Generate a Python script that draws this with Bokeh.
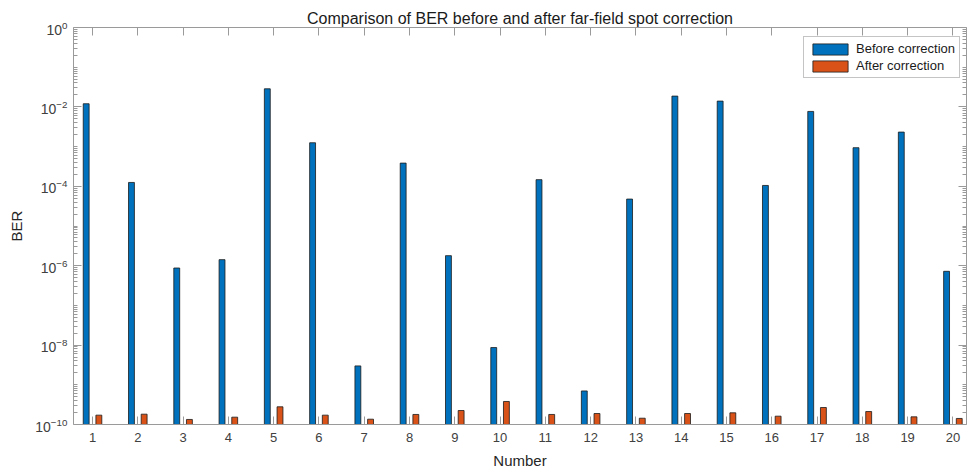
from bokeh.plotting import figure
from bokeh.models import (Range1d, LinearAxis, FixedTicker, LogTickFormatter,
                          CustomJSTickFormatter, Legend, LegendItem, ColumnDataSource)
from bokeh.embed import file_html
from bokeh.resources import INLINE

# ---- data ----
numbers = list(range(1, 21))
before_correction = [1.2e-2, 1.25e-4, 8.75e-7, 1.42e-6, 2.86e-2, 1.25e-3, 2.99e-9, 3.84e-4, 1.79e-6, 8.67e-9,
                     1.47e-4, 7.0e-10, 4.77e-5, 1.87e-2, 1.40e-2, 1.05e-4, 7.69e-3, 9.38e-4, 2.32e-3, 7.22e-7]
after_correction = [1.72e-10, 1.82e-10, 1.34e-10, 1.53e-10, 2.79e-10, 1.72e-10, 1.36e-10, 1.79e-10, 2.25e-10, 3.8e-10,
                    1.79e-10, 1.89e-10, 1.44e-10, 1.89e-10, 1.97e-10, 1.62e-10, 2.68e-10, 2.12e-10, 1.56e-10, 1.42e-10]
y_major_ticks = [1e-10, 1e-8, 1e-6, 1e-4, 1e-2, 1e0]
y_floor = 1e-10
series_names = ["Before correction", "After correction"]

minor = []
for k in range(-10, 0):
    for m in range(1, 10):
        v = float(f"{m}e{k}")
        if v not in y_major_ticks:
            minor.append(v)

offset = 0.14
bar_w = 0.13
src = ColumnDataSource(dict(
    xb=[n - offset for n in numbers],
    xa=[n + offset for n in numbers],
    before=before_correction,
    after=after_correction,
    base=[y_floor] * len(numbers),
))

FONT = "Liberation Sans"
LINE = "#9a9a9a"
TXT = "#404040"

p = figure(width=969, height=473, x_range=Range1d(0.58, 20.3), y_range=Range1d(y_floor, 1),
           y_axis_type="log", output_backend="svg", toolbar_location=None,
           min_border_left=73, min_border_right=3, min_border_top=27, min_border_bottom=49)
p.outline_line_color = None
p.grid.visible = False

p.title.text = "Comparison of BER before and after far-field spot correction"
p.title.align = "center"
p.title.text_font = FONT
p.title.text_font_size = "16px"
p.title.text_font_style = "normal"
p.title.text_color = "#1a1a1a"
p.title.standoff = 2

rb = p.vbar(x="xb", width=bar_w, top="before", bottom="base", source=src,
            fill_color="#0072BD", line_color="#1a1a1a", line_width=0.8)
ra = p.vbar(x="xa", width=bar_w, top="after", bottom="base", source=src,
            fill_color="#D95319", line_color="#1a1a1a", line_width=0.8)

xt = FixedTicker(ticks=numbers)
yt = FixedTicker(ticks=y_major_ticks, minor_ticks=minor)
blank = CustomJSTickFormatter(code="return '';")

def style(ax):
    ax.axis_line_color = LINE
    ax.major_tick_line_color = LINE
    ax.minor_tick_line_color = LINE
    ax.major_tick_in = 8
    ax.major_tick_out = 0
    ax.minor_tick_in = 4
    ax.minor_tick_out = 0
    ax.major_label_text_font = FONT
    ax.major_label_text_color = TXT
    ax.major_label_text_font_size = "13px"
    ax.axis_label_text_font = FONT
    ax.axis_label_text_font_size = "15px"
    ax.axis_label_text_font_style = "normal"
    ax.axis_label_text_color = "#262626"

xa = p.xaxis[0]
xa.ticker = xt
style(xa)
xa.minor_tick_line_color = None
xa.major_label_standoff = 8
xa.axis_label = "Number"
xa.axis_label_standoff = 7

ya = p.yaxis[0]
ya.ticker = yt
ya.formatter = LogTickFormatter()
style(ya)
ya.major_label_text_font_size = "14px"
ya.major_label_standoff = 6
ya.axis_label = "BER"
ya.axis_label_standoff = 7

top = LinearAxis(ticker=xt, formatter=blank)
style(top)
top.minor_tick_line_color = None
top.major_label_standoff = 0
p.add_layout(top, "above")

right = LinearAxis(ticker=yt, formatter=blank)
style(right)
right.major_label_standoff = 0
p.add_layout(right, "right")

legend = Legend(items=[LegendItem(label=series_names[0], renderers=[rb]),
                       LegendItem(label=series_names[1], renderers=[ra])],
                location=(730, 346))
legend.label_text_font = FONT
legend.label_text_font_size = "13px"
legend.label_text_color = "#1a1a1a"
legend.glyph_width = 44
legend.glyph_height = 14
legend.label_height = 14
legend.label_standoff = 4
legend.spacing = 2
legend.padding = 4
legend.margin = 0
legend.border_line_color = "#8a8a8a"
legend.border_line_width = 1
legend.background_fill_alpha = 1
p.add_layout(legend)

open("out.html", "w").write(file_html(p, INLINE))
